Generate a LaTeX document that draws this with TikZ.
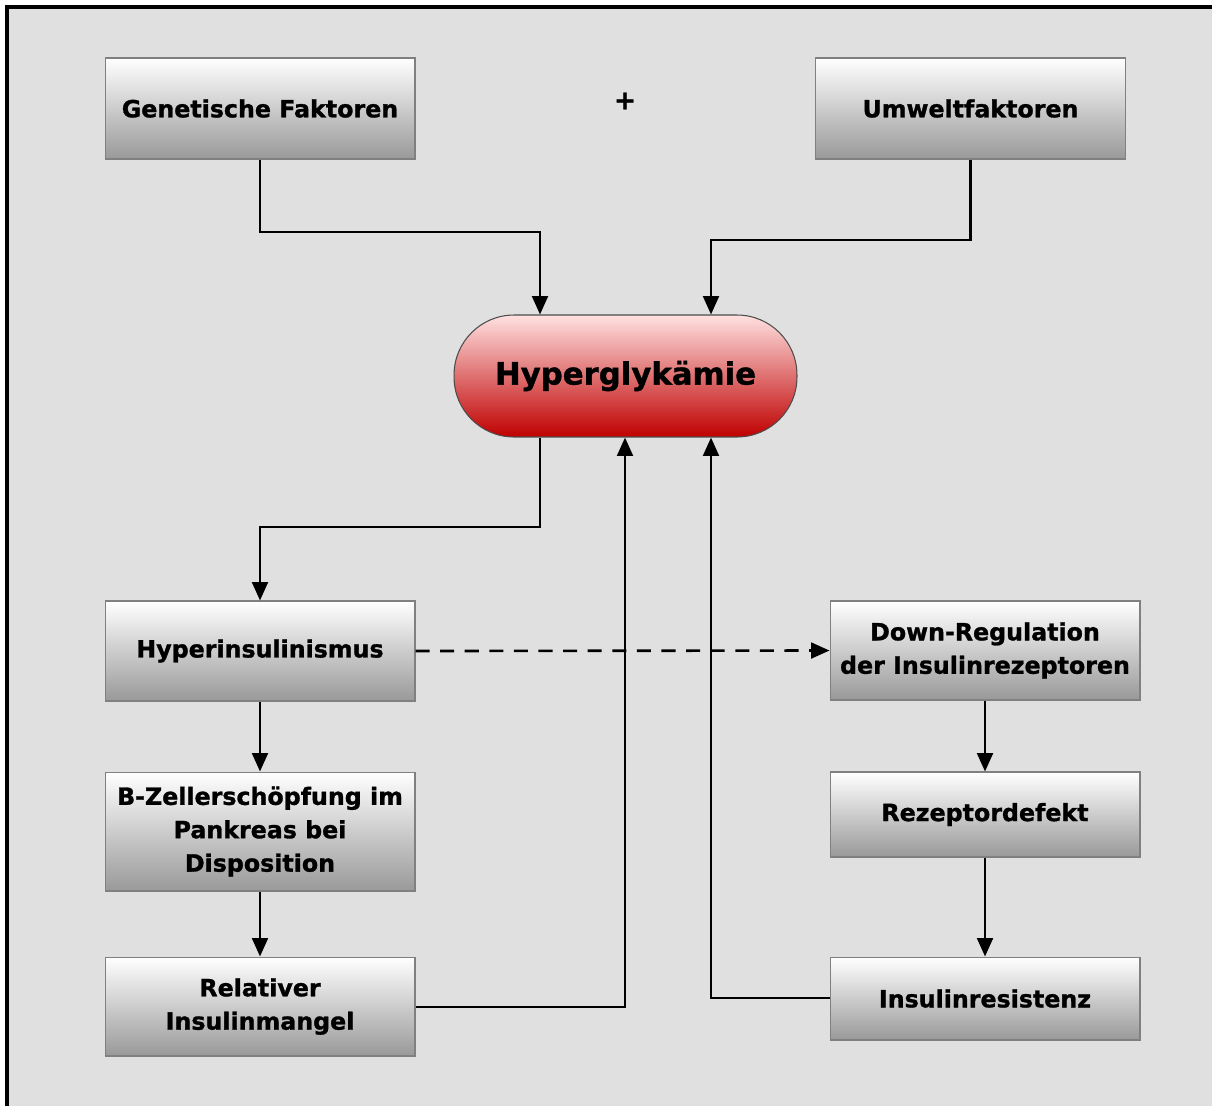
\documentclass[tikz,border=0pt]{standalone}
\usepackage{fontspec}
\setmainfont{DejaVu Sans}[BoldFeatures={FakeBold=1.2}]
\usetikzlibrary{arrows.meta}
\definecolor{bggray}{HTML}{E0E0E0}
\definecolor{boxline}{HTML}{808080}
\tikzset{
  factorbox/.style={draw=boxline,line width=0.6pt,top color=white,bottom color=black!40,
    minimum width=6.2cm,align=center,font=\bfseries\fontsize{13.5}{19}\selectfont},
  mainbox/.style={draw=black!70,line width=0.6pt,top color=red!12,bottom color=red!75!black,
    minimum width=6.86cm,minimum height=2.44cm,rounded corners=1.2cm,
    font=\bfseries\fontsize{17.5}{19}\selectfont},
  arr/.style={-{Triangle[length=10.5pt,width=9pt]},line width=1.5pt},
  dasharr/.style={arr,dash pattern=on 8pt off 6pt}
}
\begin{document}
\begin{tikzpicture}[x=0.02cm,y=-0.02cm]
        \useasboundingbox (0,0) rectangle (1212,1106);
        %Hintergrund
        \fill[white] (0,0) rectangle (1212,1106);
        \fill[bggray] (7,7) rectangle (1212,1106);
        \draw[line width=2pt,black] (7,1106) -- (7,7) -- (1212,7);

        %oben
        \node[factorbox,minimum height=2.02cm] (gen) at (260,108.5) {Genetische Faktoren};
        \node[factorbox,minimum height=2.02cm] (umw) at (970.5,108.5) {Umweltfaktoren};
        \node[font=\bfseries\fontsize{15}{16}\selectfont] (plus) at (625,101) {+};

        %Mitte
        \node[mainbox] (hyp) at (625.5,376) {Hyperglykämie};

        %links
        \node[factorbox,minimum height=2.0cm] (hins) at (260,651) {Hyperinsulinismus};
        \node[factorbox,minimum height=2.38cm] (bz) at (260,831.5) {B-Zellerschöpfung im\\Pankreas bei\\Disposition};
        \node[factorbox,minimum height=1.98cm] (rel) at (260,1006.5) {Relativer\\Insulinmangel};

        %rechts
        \node[factorbox,minimum height=1.98cm] (down) at (985,650.5) {Down-Regulation\\der Insulinrezeptoren};
        \node[factorbox,minimum height=1.7cm] (rez) at (985,814.5) {Rezeptordefekt};
        \node[factorbox,minimum height=1.66cm] (ires) at (985,998.5) {Insulinresistenz};

        %Pfeile
        \coordinate (k1) at (540,232);
        \coordinate (k2) at (711,240);
        \coordinate (k3) at (540,527);
        \coordinate (k4) at (625,1007);
        \coordinate (k5) at (711,998);
        \draw[arr] (gen.south) |- (k1) -- (k1 |- hyp.north);
        \draw[arr] (umw.south) |- (k2) -- (k2 |- hyp.north);
        \draw[arr] (k3 |- hyp.south) -- (k3) -| (hins.north);
        \draw[dasharr] (hins.east) -- (down.west);
        \draw[arr] (hins) -- (bz);
        \draw[arr] (bz) -- (rel);
        \draw[arr] (rel.east |- k4) -- (k4) -- (k4 |- hyp.south);
        \draw[arr] (ires.west |- k5) -- (k5) -- (k5 |- hyp.south);
        \draw[arr] (down) -- (rez);
        \draw[arr] (rez) -- (ires);
\end{tikzpicture}
\end{document}
